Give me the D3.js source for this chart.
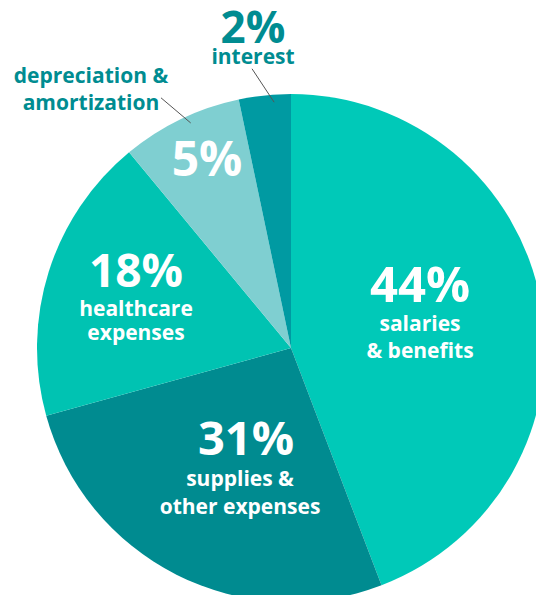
<!DOCTYPE html>
<html>
<head>
<meta charset="utf-8">
<script src="https://cdn.jsdelivr.net/npm/d3@7"></script>
<style>
  html, body { margin: 0; padding: 0; background: #fff; }
  svg text { font-family: "Open Sans", "Noto Sans", sans-serif; }
</style>
</head>
<body>
<div id="chart"></div>
<script>
// slice shares as drawn (angles) and the printed labels
var names = ["salaries & benefits", "supplies & other expenses", "healthcare expenses", "depreciation & amortization", "interest"];
var shares = [44.2, 26.5, 18.3, 7.7, 3.3];
var pctLabels = ["44%", "31%", "18%", "5%", "2%"];
var textLines = [["salaries", "& benefits"], ["supplies &", "other expenses"], ["healthcare", "expenses"], ["depreciation &", "amortization"], ["interest"]];
var colors = ["#00c9b8", "#008b90", "#00c3b2", "#7fcfd1", "#009aa2"];

var w = 536, h = 595,
  cx = 291, cy = 348, r = 254;

var svg = d3.select("#chart").append("svg")
  .attr("width", w)
  .attr("height", h);

var data = names.map(function (n, i) {
  return {name: n, value: shares[i], pct: pctLabels[i], lines: textLines[i], color: colors[i]};
});

var pie = d3.pie().sort(null).value(function (d) { return d.value; });
var arcs = pie(data);

var arc = d3.arc().innerRadius(0).outerRadius(r);

var g = svg.append("g").attr("transform", "translate(" + cx + "," + cy + ")");

g.selectAll("path")
  .data(arcs)
  .enter().append("path")
  .attr("d", arc)
  .attr("fill", function (d) { return d.data.color; });

// leader lines for the two small slices (a little slanted, like the original)
var tilt = [0, 0, 0, 0.03, 0.035];

function polar(d, i, rad, sign) {
  var a = (d.startAngle + d.endAngle) / 2 + sign * tilt[i];
  return [rad * Math.sin(a), -rad * Math.cos(a)];
}

g.selectAll("line.leader")
  .data(arcs.slice(3))
  .enter().append("line")
  .attr("class", "leader")
  .attr("x1", function (d, i) { return polar(d, i + 3, r * 0.97, 1)[0]; })
  .attr("y1", function (d, i) { return polar(d, i + 3, r * 0.97, 1)[1]; })
  .attr("x2", function (d, i) { return polar(d, i + 3, r * 1.11, -1)[0]; })
  .attr("y2", function (d, i) { return polar(d, i + 3, r * 1.11, -1)[1]; })
  .attr("stroke", "#555")
  .attr("stroke-width", 1);

// label placement, offsets from the pie centre
var pctPos = [[129, -46], [-45, 107], [-155, -61], [-84, -172], [-38, -305]],
  linePos = [[129, -17], [-51, 138], [-155, -32], [-200, -265], [-38, -284]],
  pctSize = [49, 47, 46, 48, 44],
  lineGap = [27, 28, 24, 27, 0];

var lab = g.selectAll("g.lab")
  .data(arcs)
  .enter().append("g")
  .attr("class", "lab");

lab.append("text")
  .attr("x", function (d, i) { return pctPos[i][0]; })
  .attr("y", function (d, i) { return pctPos[i][1]; })
  .attr("text-anchor", "middle")
  .attr("font-weight", "bold")
  .attr("font-size", function (d, i) { return pctSize[i]; })
  .attr("fill", function (d, i) { return i === 4 ? "#008c91" : "#fff"; })
  .text(function (d) { return d.data.pct; });

lab.each(function (d, i) {
  // the 5% and 2% slices carry their words outside
  var sel = d3.select(this);
  d.data.lines.forEach(function (t, k) {
    sel.append("text")
      .attr("x", linePos[i][0])
      .attr("y", linePos[i][1] + k * lineGap[i])
      .attr("text-anchor", "middle")
      .attr("font-weight", "bold")
      .attr("font-size", 21)
      .attr("fill", i >= 3 ? "#008c91" : "#fff")
      .text(t);
  });
});
</script>
</body>
</html>
